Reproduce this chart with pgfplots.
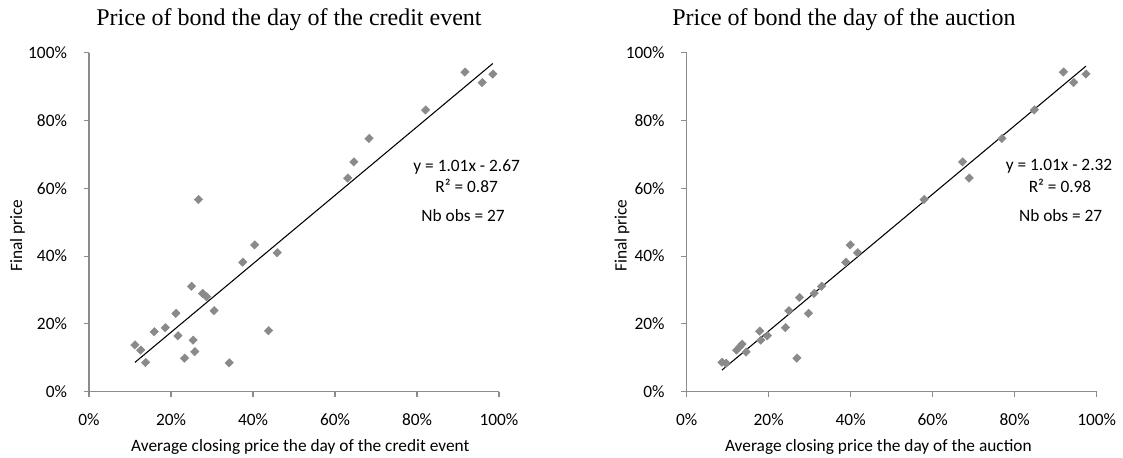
\documentclass[border=0pt]{standalone}
\usepackage{pgfplots}
\pgfplotsset{compat=1.18}
\usepackage{fontspec}
\setmainfont{Carlito}
\newfontfamily\timesfont{Liberation Serif}
\definecolor{ptgray}{HTML}{8A8A8A}
\definecolor{axgray}{HTML}{8C8C8C}

\pgfplotstableread{
x y
11.2 13.8
12.6 12.3
13.8 8.6
15.9 17.7
18.6 18.9
21.2 23.1
21.7 16.5
23.3 9.9
25.0 31.1
25.4 15.2
25.8 11.8
26.7 56.7
27.7 29.0
28.7 28.0
30.5 23.9
34.2 8.5
37.5 38.2
40.4 43.3
43.8 18.0
45.9 41.0
63.1 63.0
64.6 67.8
68.3 74.7
82.1 83.1
91.7 94.3
95.9 91.2
98.5 93.7
}\creditdata

\pgfplotstableread{
x y
8.6 8.7
9.6 8.4
12.2 12.3
13.0 13.3
13.5 14.0
14.5 11.7
17.8 17.9
18.1 15.2
19.7 16.5
24.1 18.9
24.9 23.9
26.9 9.9
27.5 27.8
29.7 23.1
31.1 29.0
32.9 31.1
38.8 38.2
39.9 43.3
41.7 41.0
57.9 56.7
67.3 67.8
68.9 63.0
76.9 74.7
84.8 83.1
91.9 94.3
94.4 91.2
97.4 93.7
}\auctiondata

\pgfplotsset{
  myaxis/.style={
    scale only axis,
    width=307.5pt, height=254.25pt,
    xmin=0, xmax=100, ymin=0, ymax=100,
    axis x line*=bottom, axis y line*=left,
    axis line style={-, draw=axgray, line width=0.8pt},
    xtick={0,20,40,60,80,100},
    ytick={0,20,40,60,80,100},
    xticklabels={0\%,20\%,40\%,60\%,80\%,100\%},
    yticklabels={0\%,20\%,40\%,60\%,80\%,100\%},
    tick align=outside,
    major tick length=4pt,
    tick style={draw=axgray, line width=0.8pt},
    ticklabel style={font=\fontsize{13}{15}\selectfont, text=black},
    xticklabel style={yshift=-9pt},
    yticklabel style={xshift=-9pt},
    clip=false,
  },
  ptstyle/.style={only marks, mark=square*, mark size=2.3pt,
    mark options={rotate=45, yscale=0.92, fill=ptgray, draw=ptgray}},
}

\begin{document}
\begin{tikzpicture}
\path[use as bounding box] (0,0) rectangle (842.25pt,342.75pt);

\begin{axis}[myaxis, at={(66.75pt,48.98pt)}, anchor=south west]
\addplot[ptstyle] table[x=x,y=y] {\creditdata};
\addplot[black, line width=0.8pt, no marks] coordinates {(11.2,8.64) (98.5,96.82)};
\end{axis}

\begin{axis}[myaxis, at={(515.0pt,48.98pt)}, anchor=south west]
\addplot[ptstyle] table[x=x,y=y] {\auctiondata};
\addplot[black, line width=0.8pt, no marks] coordinates {(8.6,6.37) (97.4,96.05)};
\end{axis}

% titles
\node[anchor=base, font=\timesfont\fontsize{18}{20}\selectfont] at (216.75pt,323.25pt) {Price of bond the day of the credit event};
\node[anchor=base, font=\timesfont\fontsize{18}{20}\selectfont] at (633pt,323.25pt) {Price of bond the day of the auction};

% x labels
\node[anchor=base, font=\fontsize{13}{15}\selectfont] at (225.2pt,4.5pt) {Average closing price the day of the credit event};
\node[anchor=base, font=\fontsize{13}{15}\selectfont] at (658.75pt,4.5pt) {Average closing price the day of the auction};

% y labels
\node[rotate=90, font=\fontsize{13}{15}\selectfont] at (13.1pt,166pt) {Final price};
\node[rotate=90, font=\fontsize{13}{15}\selectfont] at (466.5pt,166pt) {Final price};

% regression annotations
\node[font=\fontsize{13}{15}\selectfont] at (350pt,217.7pt) {y = 1.01x - 2.67};
\node[font=\fontsize{13}{15}\selectfont] at (350pt,203.5pt) {R² = 0.87};
\node[font=\fontsize{13}{15}\selectfont] at (347.3pt,180.75pt) {Nb obs = 27};
\node[font=\fontsize{13}{15}\selectfont] at (794.25pt,217.7pt) {y = 1.01x - 2.32};
\node[font=\fontsize{13}{15}\selectfont] at (795pt,203.5pt) {R² = 0.98};
\node[font=\fontsize{13}{15}\selectfont] at (795.5pt,180.75pt) {Nb obs = 27};
\end{tikzpicture}
\end{document}
